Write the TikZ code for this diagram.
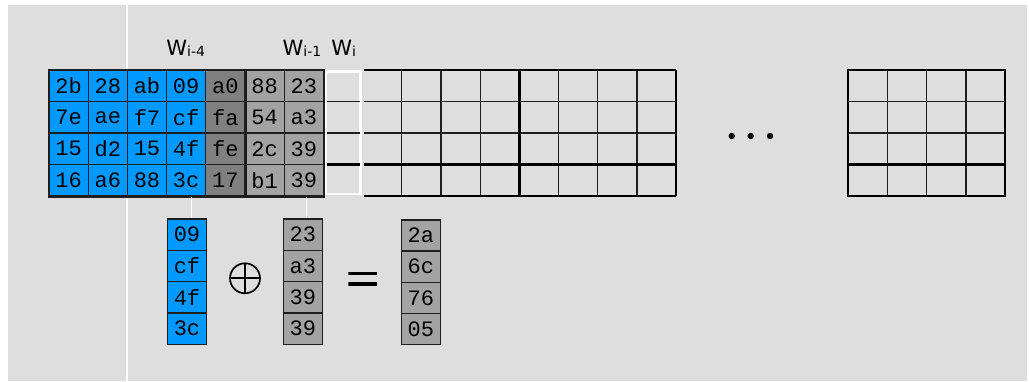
\documentclass[tikz,border=0pt]{standalone}
\usepackage{fontspec}
\newfontfamily\cellfont{Liberation Mono}
\newfontfamily\labfont{DejaVu Sans}
\definecolor{bgg}{HTML}{DEDEDE}
\definecolor{aesblue}{HTML}{0099FF}
\definecolor{dkg}{HTML}{808080}
\definecolor{ltg}{HTML}{A3A3A3}
\definecolor{edge}{HTML}{1E1E1E}
\tikzset{
  cell/.style={draw=edge, line width=1.2pt, minimum width=39.2pt, minimum height=31.5pt,
    inner sep=0pt, anchor=center, font=\cellfont\fontsize{22}{22}\selectfont},
  bluecell/.style={cell, fill=aesblue},
  darkcell/.style={cell, fill=dkg},
  graycell/.style={cell, fill=ltg},
  vcell/.style={cell, minimum height=31.3pt},
  gridthin/.style={draw=edge, line width=1.3pt},
  gridthick/.style={draw=black, line width=2.3pt},
  wlabel/.style={anchor=base west, inner sep=0pt, font=\labfont},
  tie/.style={draw=white, line width=1.5pt},
  dot/.style={fill=black}
}
\newcommand{\wlab}[1]{{\fontsize{21}{21}\selectfont W}\raisebox{-1pt}{\fontsize{14}{14}\selectfont #1}}
\begin{document}
\begin{tikzpicture}[x=1pt,y=-1pt]
\useasboundingbox (0,0) rectangle (1029,381);
\fill[bgg] (8,5) rectangle (1027,381);
\draw[tie] (127,5) -- (127,381);
% key schedule cells
\foreach \r/\a/\b/\c/\d/\e/\f/\g in {1/2b/28/ab/09/a0/88/23, 2/7e/ae/f7/cf/fa/54/a3, 3/15/d2/15/4f/fe/2c/39, 4/16/a6/88/3c/17/b1/39}{
  \pgfmathsetmacro{\yy}{70+31.5*(\r-0.5)}
  \node[bluecell] (c\r-1) at ({49+39.2*0.5},\yy) {\a};
  \node[bluecell] (c\r-2) at ({49+39.2*1.5},\yy) {\b};
  \node[bluecell] (c\r-3) at ({49+39.2*2.5},\yy) {\c};
  \node[bluecell] (c\r-4) at ({49+39.2*3.5},\yy) {\d};
  \node[darkcell] (c\r-5) at ({49+39.2*4.5},\yy) {\e};
  \node[graycell] (c\r-6) at ({49+39.2*5.5},\yy) {\f};
  \node[graycell] (c\r-7) at ({49+39.2*6.5},\yy) {\g};
}
\draw[edge, line width=1.8pt] (c1-5.north east) -- (c4-5.south east);
\draw[edge, line width=1.8pt] (c1-1.north west) rectangle (c4-7.south east);
% W_i column
\node[draw=white, line width=2.5pt, minimum width=34.6pt, minimum height=122.5pt, inner sep=0pt] (wi) at (343.3,132.6) {};
\draw[gridthin] (327,101.5) -- (360,101.5) (327,133) -- (360,133);
\draw[gridthick] (327,164.5) -- (360,164.5);
% empty grid
\foreach \yy in {101.5,133}{\draw[gridthin] (364,\yy) -- (676.2,\yy);}
\foreach \k in {9,10,11,13,14,15}{\draw[gridthin] ({49+39.2*\k},70) -- ({49+39.2*\k},196);}
\draw[gridthick] (364,70) -- (676.2,70) (364,164.5) -- (676.2,164.5) (364,196) -- (676.2,196);
\draw[gridthick] ({49+39.2*12},70) -- ({49+39.2*12},196);
\draw[gridthick] (676.2,70) -- (676.2,196);
% dots
\fill[dot] (731.7,136) circle (3.2) (750.7,136) circle (3.2) (770,136) circle (3.2);
% last grid
\foreach \yy in {101.5,133}{\draw[gridthin] (848.3,\yy) -- (1005.1,\yy);}
\foreach \k in {1,2,3}{\draw[gridthin] ({848.3+39.2*\k},70) -- ({848.3+39.2*\k},196);}
\draw[gridthick] (848.3,164.5) -- (1005.1,164.5);
\draw[gridthick] (848.3,70) rectangle (1005.1,196);
% labels
\node[wlabel] (l4) at (166.2,55) {\wlab{i-4}};
\node[wlabel] (l1) at (282.5,55) {\wlab{i-1}};
\node[wlabel] (l0) at (331.2,55) {\wlab{i}};
% lower vectors
\foreach \k/\a/\b/\c in {1/09/23/2a, 2/cf/a3/6c, 3/4f/39/76, 4/3c/39/05}{
  \node[vcell, fill=aesblue] (v1-\k) at (187,{219+31.3*(\k-0.5)}) {\a};
  \node[vcell, fill=ltg] (v2-\k) at (302.85,{219+31.3*(\k-0.5)}) {\b};
  \node[vcell, fill=ltg] (v3-\k) at (420.85,{220+31.1*(\k-0.5)}) {\c};
}
\coordinate (t1) at (191.7,197);
\coordinate (t2) at (306.7,197);
\draw[tie] (t1) -- (t1 |- v1-1.north);
\draw[tie] (t2) -- (t2 |- v2-1.north);
% operators
\node[circle, draw=black, line width=1.7pt, minimum size=30pt, inner sep=0pt,
  path picture={\draw[line width=1.7pt] (path picture bounding box.north) -- (path picture bounding box.south)
    (path picture bounding box.west) -- (path picture bounding box.east);}] (xor) at (245,278.3) {};
\node[minimum width=29pt, minimum height=14pt, inner sep=0pt,
  path picture={\draw[line width=3.2pt] ([yshift=-1.6pt]path picture bounding box.north west) -- ([yshift=-1.6pt]path picture bounding box.north east)
    ([yshift=1.6pt]path picture bounding box.south west) -- ([yshift=1.6pt]path picture bounding box.south east);}] (eq) at (362.8,278.6) {};
\end{tikzpicture}
\end{document}
